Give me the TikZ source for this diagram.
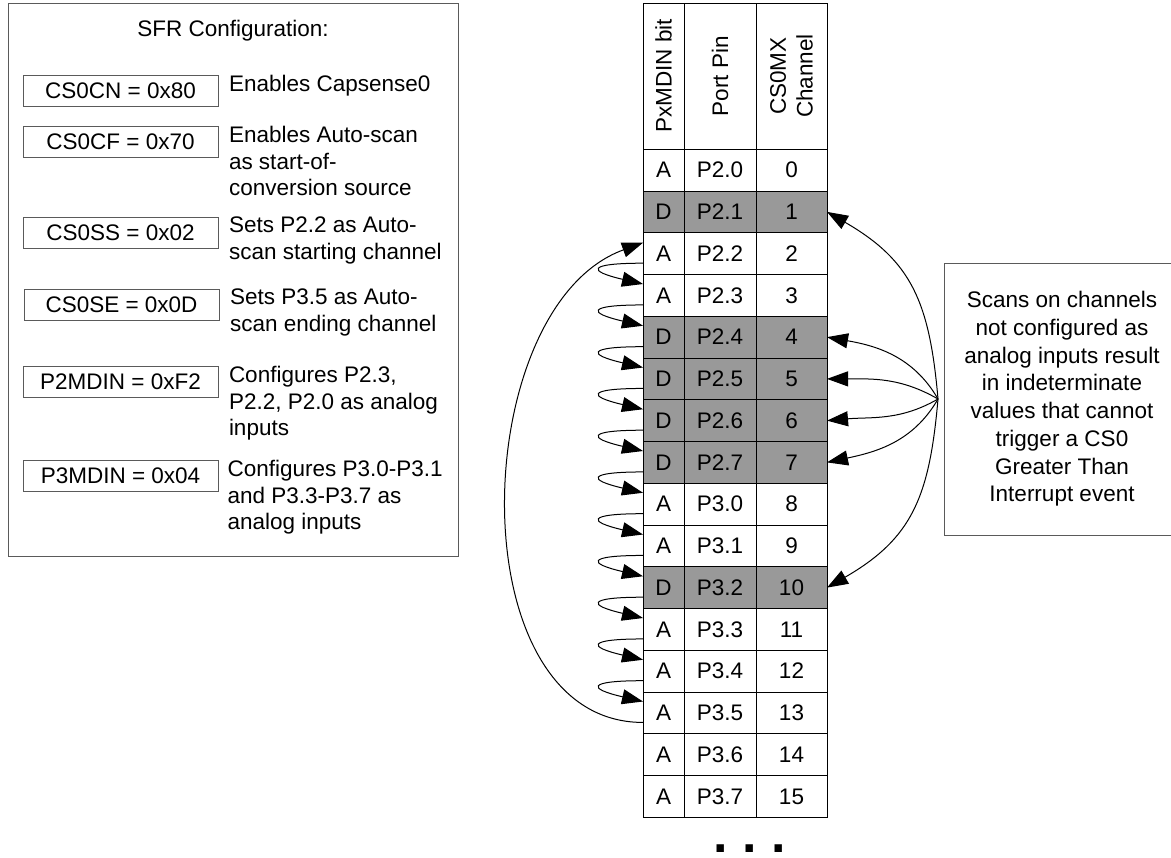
\documentclass[tikz,border=0pt]{standalone}
\usepackage{fontspec}
\setmainfont{Liberation Sans}
\usetikzlibrary{arrows.meta,positioning,calc}
\definecolor{digigray}{RGB}{153,153,153}
\definecolor{framegray}{RGB}{90,90,90}

\begin{document}
\begin{tikzpicture}[x=0.5pt,y=-0.5pt,>={Triangle[length=10.5pt,width=7.5pt]},
    font=\fontsize{11.25}{13.35}\selectfont,
    every node/.style={inner sep=0pt,outer sep=0pt},
    regbox/.style={draw=framegray,line width=0.5pt,minimum width=97.5pt,minimum height=15.5pt},
    regtext/.style={anchor=north west,align=left,xshift=5.5pt,yshift=0pt},
    cell/.style={draw,line width=0.5pt,minimum height=20.875pt},
    bitcol/.style={cell,minimum width=20.5pt},
    pincol/.style={cell,minimum width=36pt},
    chcol/.style={cell,minimum width=35.5pt},
    headcell/.style={draw,line width=0.5pt,rotate=90,minimum width=73pt,align=center},
    scan/.style={->,line width=0.5pt}]
  \useasboundingbox (0,0) rectangle (1171,857);

  % SFR configuration box
  \node[draw=framegray,line width=0.5pt,minimum width=225pt,minimum height=276.5pt] (sfr) at (233,279.5) {};
  \node[anchor=base] (title) at (233,36) {SFR Configuration:};

  \node[regbox] (cn) at (120.5,90.5) {CS0CN = 0x80};
  \node[regbox] (cf) at (120.5,141.5) {CS0CF = 0x70};
  \node[regbox] (ss) at (120.5,232.5) {CS0SS = 0x02};
  \node[regbox] (se) at (121.5,304.5) {CS0SE = 0x0D};
  \node[regbox] (p2) at (120.5,381.5) {P2MDIN = 0xF2};
  \node[regbox] (p3) at (120.5,475.5) {P3MDIN = 0x04};

  \node[regtext] (cntext) at (cn.north east) {Enables Capsense0};
  \node[regtext] (cftext) at (cf.north east) {Enables Auto-scan\\as start-of-\\conversion source};
  \node[regtext] (sstext) at (ss.north east) {Sets P2.2 as Auto-\\scan starting channel};
  \node[regtext] (setext) at (se.north east) {Sets P3.5 as Auto-\\scan ending channel};
  \node[regtext] (p2text) at (p2.north east) {Configures P2.3,\\P2.2, P2.0 as analog\\inputs};
  \node[regtext,xshift=-0.7pt] (p3text) at (p3.north east) {Configures P3.0-P3.1\\and P3.3-P3.7 as\\analog inputs};

  % channel table
  \node[headcell,minimum height=20.5pt] (h1) at (663.5,76) {PxMDIN bit};
  \node[headcell,minimum height=36pt] (h2) at (720,76) {Port Pin};
  \node[headcell,minimum height=35.5pt] (h3) at (791.5,76) {CS0MX\\Channel};

  \foreach \bit/\pin/\shade [count=\i from 0] in {A/P2.0/white, D/P2.1/digigray, A/P2.2/white, A/P2.3/white,
      D/P2.4/digigray, D/P2.5/digigray, D/P2.6/digigray, D/P2.7/digigray, A/P3.0/white, A/P3.1/white,
      D/P3.2/digigray, A/P3.3/white, A/P3.4/white, A/P3.5/white, A/P3.6/white, A/P3.7/white}{
    \node[bitcol,fill=\shade] (b\i) at (663.5,{170.125+41.75*\i}) {\bit};
    \node[pincol,fill=\shade,right=0pt of b\i] (p\i) {\pin};
    \node[chcol,fill=\shade,right=0pt of p\i] (c\i) {\i};
  }

  \node[anchor=base,font=\fontsize{26}{26}\bfseries\selectfont] (more) at (750,852) {.\hspace{7.2pt}.\hspace{7.2pt}.};

  % auto-scan sequence
  \foreach \i [evaluate=\i as \j using int(\i+1)] in {2,...,12}
    \draw[scan] (b\i.205) to[out=180,in=167,looseness=7] (b\j.151);
  \draw[scan] (b13.205) to[out=180,in=200] (b2.152);

  % note on digital channels
  \node[draw=framegray,line width=0.5pt,minimum width=118pt,minimum height=136pt,align=center,
    font=\fontsize{11.25}{13.85}\selectfont] (note) at (1062,399)
    {Scans on channels\\not configured as\\analog inputs result\\in indeterminate\\values that cannot\\trigger a CS0\\Greater Than\\Interrupt event};
  \coordinate (fan) at ([xshift=-3pt]note.west);

  \draw[scan] (fan) to[out=95,in=-30,looseness=1.15] (c1.east);
  \draw[scan] (fan) to[out=120,in=-10] (c4.east);
  \draw[scan] (fan) to[out=150,in=0] (c5.east);
  \draw[scan] (fan) to[out=210,in=5] (c6.east);
  \draw[scan] (fan) to[out=240,in=12] (c7.east);
  \draw[scan] (fan) to[out=265,in=30,looseness=1.15] (c10.east);
\end{tikzpicture}
\end{document}
